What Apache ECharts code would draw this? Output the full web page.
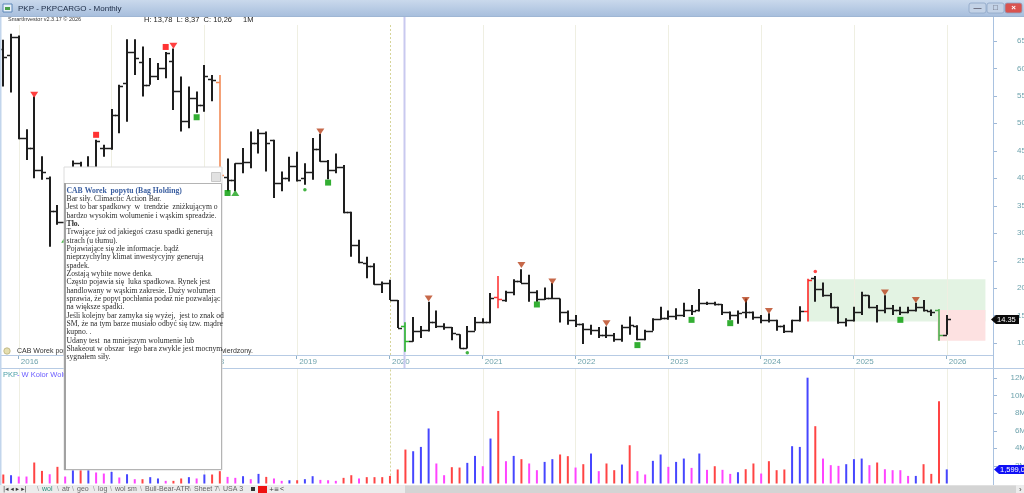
<!DOCTYPE html>
<html><head><meta charset="utf-8">
<script src="https://cdn.jsdelivr.net/npm/echarts@6/dist/echarts.min.js"></script>
<style>html,body{margin:0;padding:0;background:#fff;overflow:hidden}#c{width:1024px;height:493px}</style>
</head><body><div id="c"></div><script>
// ---------------- DATA (monthly bars, index 0 = Nov 2015, index 122 = Jan 2026) ----------------
const yearLabels = ['2016','2017','2018','2019','2020','2021','2022','2023','2024','2025','2026'];
const yearIndex  = [2,14,26,38,50,62,74,86,98,110,122];
const open  = [63.6,62.5,65.8,47.3,45.5,41.5,40.0,34.0,32.1,33.5,42.8,40.0,42.0,45.5,45.5,51.5,57.3,62.9,61.2,57.0,
  58.6,60.0,61.4,55.8,50.4,54.6,53.4,58.0,57.6,40.3,39.7,42.8,43.0,46.5,48.2,47.0,39.1,40.0,42.2,40.0,
  41.2,45.3,43.1,41.5,42.1,33.9,27.9,24.5,24.0,20.7,20.9,17.8,13.1,10.3,12.2,12.3,13.9,13.1,12.9,11.6,
  9.0,12.2,13.9,13.9,18.4,17.8,19.3,21.2,21.0,19.2,18.0,18.1,18.1,15.7,14.2,13.5,12.5,12.4,11.5,11.5,
  10.7,12.9,13.1,10.7,12.2,14.3,14.5,14.9,15.1,16.0,16.0,17.2,17.3,17.1,15.7,15.1,15.6,15.7,14.8,14.1,
  14.1,13.0,12.1,14.1,15.8,21.8,19.8,18.7,16.6,13.9,14.1,15.7,18.7,16.5,16.0,16.3,16.0,15.7,16.0,16.5,
  15.9,16.0,11.5];
const high  = [65.2,66.3,66.0,48.9,54.9,44.0,40.3,35.1,35.0,43.2,43.0,44.0,47.0,46.1,52.6,57.0,65.3,65.3,64.0,61.9,
  61.0,63.0,63.6,58.5,56.7,55.8,60.6,58.8,58.8,43.6,42.7,45.5,48.5,48.9,48.5,47.0,41.2,43.9,44.8,42.7,
  47.3,48.1,43.3,44.5,42.4,33.9,28.8,25.7,24.5,21.2,21.5,17.8,13.78,14.7,13.1,17.5,15.9,13.6,12.9,11.6,
  13.1,14.7,14.5,19.1,22.2,19.5,21.6,23.4,22.4,19.6,20.1,20.9,18.1,15.9,15.1,13.6,13.3,12.9,13.0,11.8,
  13.3,14.8,13.2,12.4,14.5,16.6,15.9,16.3,17.3,16.9,19.8,17.5,17.5,17.1,15.7,15.9,18.1,15.7,15.1,15.4,
  14.2,13.3,14.2,16.7,21.7,22.2,21.0,19.1,16.6,14.5,16.6,19.3,18.7,16.9,18.7,16.9,16.6,16.6,17.3,17.8,
  16.1,16.2,15.1];
const low   = [56.7,55.6,47.1,43.3,40.0,39.7,27.5,31.5,30.0,33.0,38.0,37.0,40.5,43.9,45.2,48.2,50.3,58.8,54.9,57.0,
  57.9,58.2,52.4,48.5,49.1,51.9,52.1,54.0,38.5,37.6,37.6,40.9,41.8,44.5,41.2,36.4,37.6,39.4,39.4,38.8,
  39.7,43.0,39.8,40.9,33.6,25.7,24.5,21.8,20.6,19.1,17.8,12.7,8.37,10.2,10.9,12.1,12.7,12.4,10.5,9.0,
  9.0,12.2,13.6,13.6,16.3,17.5,18.7,20.9,17.5,17.5,17.8,18.0,13.7,13.3,12.9,9.8,11.5,10.9,10.9,10.2,
  10.2,11.5,10.5,10.5,12.2,14.2,14.2,14.2,14.7,15.1,15.7,16.9,16.8,15.1,14.2,13.5,14.5,14.2,13.6,13.7,
  12.2,11.8,11.9,13.9,13.9,17.5,18.4,16.3,13.5,13.0,13.9,15.1,16.3,13.7,15.4,15.1,15.1,15.4,15.7,15.7,
  14.9,10.4,11.5];
const close = [62.1,65.8,47.3,45.5,41.5,41.2,34.0,32.1,33.5,42.8,40.0,42.0,46.7,45.5,51.5,56.8,62.9,61.9,57.0,58.6,
  60.0,62.8,55.8,50.4,54.6,53.4,58.6,57.9,40.5,39.7,42.7,43.0,46.5,48.2,46.5,39.1,40.0,42.2,39.7,41.2,
  45.3,43.1,41.5,42.1,33.9,27.9,24.8,24.0,20.7,20.9,17.8,12.7,10.26,12.2,12.3,13.9,13.1,12.9,11.8,9.0,
  12.2,13.9,13.9,18.1,18.0,19.3,21.2,21.0,19.2,18.0,18.1,18.1,15.7,14.2,13.5,12.5,12.4,11.5,11.5,10.7,
  12.9,13.3,10.7,12.2,14.3,14.5,14.9,15.1,16.0,15.9,17.2,17.3,17.1,15.7,15.1,15.5,15.7,14.8,14.1,14.1,
  13.0,12.1,14.1,15.8,21.5,19.8,18.7,16.6,13.9,14.1,15.7,18.7,16.5,16.0,16.3,16.0,15.7,16.0,16.5,16.0,
  15.7,11.5,14.35];
// monthly volume in millions of shares
const volumeM = [1.02,0.94,0.79,0.79,2.38,1.43,1.05,1.89,0.79,1.8,1.6,1.7,1.25,1.13,1.32,0.68,1.05,0.49,0.49,0.72,
  0.57,0.30,0.30,0.57,0.72,0.57,1.02,1.02,1.40,0.75,0.64,0.83,0.49,1.09,0.75,0.57,0.30,0.37,0.37,0.49,
  0.83,0.41,0.37,0.30,0.64,0.94,0.57,0.72,0.72,0.72,0.86,1.59,3.85,3.66,4.15,6.24,2.27,0.94,1.85,1.81,
  2.34,3.13,1.96,5.10,8.23,2.53,3.13,2.76,2.27,1.51,2.45,2.76,3.29,3.10,1.81,2.19,3.40,1.40,2.27,1.51,
  2.15,4.34,1.40,1.02,2.57,3.29,1.89,2.45,2.83,1.77,3.40,1.55,1.96,1.55,1.09,1.28,1.62,2.27,1.13,2.53,
  1.51,1.59,4.23,4.15,12.0,6.50,2.83,2.08,2.00,2.19,2.76,2.83,2.08,2.38,1.62,1.51,1.51,0.86,0.86,2.19,
  1.09,9.33,1.59905];
// volume colour class from the indicator: R / B / M
const volClass = ['R','B','M','M','R','R','M','R','M','B','R','B','M','M','B','M','B','M','R','B',
  'B','M','R','R','B','M','B','R','R','M','M','B','M','B','R','M','M','B','R','B',
  'B','M','M','M','R','R','M','R','R','R','R','R','R','B','B','B','M','M','R','R',
  'B','B','M','B','R','M','B','R','M','M','B','B','R','R','M','R','B','M','R','R',
  'B','R','M','M','B','B','M','B','B','M','B','M','R','M','M','B','R','R','M','R',
  'R','R','B','B','B','R','M','M','M','B','B','B','M','R','M','M','M','M','B','R',
  'R','R','B'];
// signals: [bar index, price level]
const sigRedSquare   = [[12,47.9],[21,63.9]];
const sigRedTriDown  = [[4,55.2],[22,64.1]];
const sigBrownTriDown= [[41,48.5],[55,18.1],[67,24.2],[71,21.2],[78,13.6],[96,17.8],[99,15.8],[114,19.2],[118,17.8]];
const sigGreenSquare = [[25,51.1],[29,37.3],[42,39.2],[69,17.0],[82,9.6],[89,14.2],[94,13.6],[116,14.2]];
const sigGreenTriUp  = [[8,28.8],[30,37.3]];
const sigGreenDot    = [[39,37.9],[60,8.2]];
const sigRedDot      = [[105,23.0]];
// zones [fromIndex, toIndex, topPrice, bottomPrice]
const zoneGreen = [104,127,21.6,13.9];
const zoneRed   = [120.8,127,16.0,10.4];
const cursorIndex = 51.8;
const priceTicks = [10,15,20,25,30,35,40,45,50,55,60,65];
const volTicks = [2,4,6,8,10,12];
const commentLines = [
 'CAB Worek  popytu (Bag Holding)',
 'Bar siły. Climactic Action Bar.',
 'Jest to bar spadkowy  w  trendzie  zniżkującym o',
 'bardzo wysokim wolumenie i wąskim spreadzie.',
 'Tło.',
 'Trwające już od jakiegoś czasu spadki generują',
 'strach (u tłumu).',
 'Pojawiające się złe informacje. bądź',
 'nieprzychylny klimat inwestycyjny generują',
 'spadek.',
 'Zostają wybite nowe denka.',
 'Często pojawia się  luka spadkowa. Rynek jest',
 'handlowany w wąskim zakresie. Duży wolumen',
 'sprawia, że popyt pochłania podaż nie pozwalając',
 'na większe spadki.',
 'Jeśli kolejny bar zamyka się wyżej,  jest to znak od',
 'SM, że na tym barze musiało odbyć się tzw. mądre',
 'kupno. .',
 'Udany test  na mniejszym wolumenie lub',
 'Shakeout w obszar  tego bara zwykle jest mocnym',
 'sygnałem siły.'
];

// ---------------- STYLE ----------------
const specialBarColor = {28:'#f28a55', 52:'#2cb52c', 64:'#ff3838', 104:'#ff2a2a', 121:'#4cae4c'};
const volColor = {R:'#ff4444', B:'#4646ff', M:'#ff44ff'};
const axisTxt = '#6fa3ad';
const UI = 'Liberation Sans';

const ohlc = open.map((o,i)=>[i,o,high[i],low[i],close[i]]);
const xMin = -0.427, xMax = 127.98;
const chart = echarts.init(document.getElementById('c'), null, {renderer:'canvas'});

const yearLines = yearIndex.map((k,i)=>({xAxis:k, lineStyle: yearLabels[i]==='2020'
  ? {color:'#d6d49a', type:[2,2], width:1} : {color:'#efefe2', type:'solid', width:1}}));

chart.setOption({
  animation:false,
  grid:[{left:0, top:25, width:993, height:330, outerBoundsMode:'none', containLabel:false},
        {left:0, top:368, width:993, height:115.5, outerBoundsMode:'none', containLabel:false}],
  xAxis:[
    {type:'value', gridIndex:0, min:xMin, max:xMax, splitLine:{show:false},
     axisLine:{show:true, lineStyle:{color:'#b7cbe4', width:1}},
     axisTick:{show:false},
     axisLabel:{show:true, customValues:yearIndex, margin:3, align:'left', padding:[0,0,0,2],
       color:axisTxt, fontFamily:UI, fontSize:8,
       formatter:v=>{const i=yearIndex.indexOf(Math.round(v)); return i>=0?yearLabels[i]:'';}}},
    {type:'value', gridIndex:1, min:xMin, max:xMax, show:false, splitLine:{show:false}}
  ],
  yAxis:[
    {type:'value', gridIndex:0, position:'right', min:7.8, max:67.9, splitLine:{show:false},
     axisLine:{show:false}, axisTick:{show:false},
     axisLabel:{customValues:priceTicks, margin:33, align:'right', color:axisTxt, fontFamily:UI, fontSize:8}},
    {type:'value', gridIndex:1, position:'right', min:0, max:13.1, splitLine:{show:false},
     axisLine:{show:false}, axisTick:{show:false},
     axisLabel:{customValues:volTicks, margin:33, align:'right', color:axisTxt, fontFamily:UI, fontSize:8,
       formatter:v=>v+'M'}}
  ],
  series:[
    {type:'scatter', xAxisIndex:0, yAxisIndex:0, data:[[0,30]], symbolSize:0, silent:true, z:1,
     markLine:{silent:true, symbol:'none', label:{show:false}, data:yearLines, animation:false},
     markArea:{silent:true, data:[
       [{xAxis:zoneGreen[0], yAxis:zoneGreen[2], itemStyle:{color:'#e3f3e3'}},{xAxis:zoneGreen[1], yAxis:zoneGreen[3]}],
       [{xAxis:zoneRed[0], yAxis:zoneRed[2], itemStyle:{color:'#fde1e1'}},{xAxis:zoneRed[1], yAxis:zoneRed[3]}]
     ]}},
    {type:'scatter', xAxisIndex:1, yAxisIndex:1, data:[[0,1]], symbolSize:0, silent:true, z:1,
     markLine:{silent:true, symbol:'none', label:{show:false}, data:yearLines, animation:false}},
    {type:'custom', xAxisIndex:0, yAxisIndex:0, z:5, data:ohlc, encode:{x:0, y:[1,2,3,4]},
     renderItem:function(params, api){
       const k=api.value(0);
       const pO=api.coord([k,api.value(1)]), pH=api.coord([k,api.value(2)]),
             pL=api.coord([k,api.value(3)]), pC=api.coord([k,api.value(4)]);
       const col=specialBarColor[k]||'#1e1e1e';
       const w = specialBarColor[k] ? 1.6 : 2;
       const x=Math.round(pH[0]);
       const yo=Math.round(pO[1])+0.5, yc=Math.round(pC[1])+0.5;
       return {type:'group', children:[
         {type:'line', shape:{x1:x,y1:pH[1],x2:x,y2:pL[1]}, style:{stroke:col, lineWidth:w}},
         {type:'line', shape:{x1:x-4,y1:yo,x2:x,y2:yo}, style:{stroke:col, lineWidth:1.5}},
         {type:'line', shape:{x1:x,y1:yc,x2:x+4,y2:yc}, style:{stroke:col, lineWidth:1.5}}
       ]};
     }},
    {type:'scatter', xAxisIndex:0, yAxisIndex:0, z:6, data:sigRedSquare, symbol:'rect', symbolSize:6, itemStyle:{color:'#ff0000'}},
    {type:'scatter', xAxisIndex:0, yAxisIndex:0, z:6, data:sigRedTriDown, symbol:'triangle', symbolRotate:180, symbolSize:[8,6], itemStyle:{color:'#ff1010'}},
    {type:'scatter', xAxisIndex:0, yAxisIndex:0, z:6, data:sigBrownTriDown, symbol:'triangle', symbolRotate:180, symbolSize:[8,6], itemStyle:{color:'#b8421c'}},
    {type:'scatter', xAxisIndex:0, yAxisIndex:0, z:6, data:sigGreenSquare, symbol:'rect', symbolSize:6, itemStyle:{color:'#009a00'}},
    {type:'scatter', xAxisIndex:0, yAxisIndex:0, z:6, data:sigGreenTriUp, symbol:'triangle', symbolSize:[8,6], itemStyle:{color:'#1aa31a'}},
    {type:'scatter', xAxisIndex:0, yAxisIndex:0, z:6, data:sigGreenDot, symbol:'circle', symbolSize:3.5, itemStyle:{color:'#13a013'}},
    {type:'scatter', xAxisIndex:0, yAxisIndex:0, z:6, data:sigRedDot, symbol:'circle', symbolSize:3.5, itemStyle:{color:'#ff1a1a'}},
    {type:'bar', xAxisIndex:1, yAxisIndex:1, z:5, barWidth:2,
     data:volumeM.map((v,i)=>({value:[i,v], itemStyle:{color:volColor[volClass[i]]}}))}
  ]
});

// ---------------- overlay graphics (positions from the chart's own scales) ----------------
const P = (k,p)=>chart.convertToPixel({gridIndex:0},[k,p]);
const V = (k,v)=>chart.convertToPixel({xAxisIndex:1,yAxisIndex:1},[k,v]);
const g = [];
const txt=(x,y,t,o)=>g.push(Object.assign({type:'text', x, y, z:100, silent:true,
  style:Object.assign({text:t, fill:'#222', font:'8px "'+UI+'"', textVerticalAlign:'middle'}, o||{})}));
// axis tick marks
priceTicks.forEach(p=>{const y=Math.round(P(0,p)[1])+0.5; g.push({type:'line', z:80, shape:{x1:994,y1:y,x2:997,y2:y}, style:{stroke:'#9fb8d6', lineWidth:1}});});
volTicks.forEach(v=>{const y=Math.round(V(0,v)[1])+0.5; g.push({type:'line', z:80, shape:{x1:994,y1:y,x2:997,y2:y}, style:{stroke:'#9fb8d6', lineWidth:1}});});
yearIndex.forEach(k=>{const x=Math.round(P(k-0.1,20)[0])+0.5; g.push({type:'line', z:80, shape:{x1:x,y1:356,x2:x,y2:359}, style:{stroke:'#8fb0c8', lineWidth:1}});});
// window frame
g.push({type:'rect', z:90, shape:{x:0,y:0,width:1024,height:16}, style:{fill:new echarts.graphic.LinearGradient(0,0,0,1,[{offset:0,color:'#cad9ec'},{offset:1,color:'#a8bfdd'}])}});
g.push({type:'line', z:91, shape:{x1:0,y1:16.5,x2:1024,y2:16.5}, style:{stroke:'#9fb6d4', lineWidth:1}});
g.push({type:'rect', z:91, shape:{x:3,y:4,width:9,height:8}, style:{fill:'#e8f0f8', stroke:'#5a86b8', lineWidth:1}});
g.push({type:'rect', z:92, shape:{x:5,y:7,width:5,height:3}, style:{fill:'#4aa04a'}});
txt(18,8.5,'PKP - PKPCARGO - Monthly',{fill:'#1b2a44', font:'8px "'+UI+'"'});
// window buttons
[[969,'#c3d2e6','—'],[987,'#c3d2e6','□'],[1005,'#d9534f','×']].forEach(b=>{
  g.push({type:'rect', z:91, shape:{x:b[0],y:3,width:17,height:10,r:2}, style:{fill:b[1], stroke:'#8ea6c6', lineWidth:0.8}});
  txt(b[0]+8.5,8,b[2],{fill:b[2]==='×'?'#fff':'#556', textAlign:'center', font:'bold 8px "'+UI+'"'});
});
// left border
g.push({type:'rect', z:90, shape:{x:0,y:16,width:1.5,height:477}, style:{fill:'#c2d5ec'}});
// info row
txt(8,19.5,'SmartInvestor v2.3.17 © 2026',{fill:'#333', font:'5.5px "'+UI+'"'});
txt(144,20,'H: '+high[52].toFixed(2).replace('.',',')+'  L: '+low[52].toFixed(2).replace('.',',')+'  C: '+close[52].toFixed(2).replace('.',','),{fill:'#222', font:'7.5px "'+UI+'"'});
txt(243,20,'1M',{fill:'#222', font:'7.5px "'+UI+'"'});
// right axis line
g.push({type:'line', z:80, shape:{x1:993.5,y1:17,x2:993.5,y2:493}, style:{stroke:'#a9c2e0', lineWidth:1}});
// separator line above volume pane
g.push({type:'line', z:80, shape:{x1:0,y1:368.5,x2:1024,y2:368.5}, style:{stroke:'#b7cbe4', lineWidth:1}});
// cursor line
const cx = Math.round(P(cursorIndex,20)[0])+0.5;
g.push({type:'line', z:4, shape:{x1:cx,y1:17,x2:cx,y2:368}, style:{stroke:'#c9c9ef', lineWidth:2}});
// status line
g.push({type:'circle', z:95, shape:{cx:7,cy:351,r:3.2}, style:{fill:'#e6dfb0', stroke:'#b9b07a', lineWidth:0.8}});
txt(17,351,'CAB Worek popytu (Bag Holding) - sygnał',{fill:'#333', font:'7px "'+UI+'"'});
txt(253,351,'niepotwierdzony.',{fill:'#333', font:'7px "'+UI+'"', textAlign:'right'});
// volume pane title
txt(3,374.5,'PKP',{fill:'#4ea0a8', font:'7.5px "'+UI+'"'});
txt(17,374.5,'- W Kolor Wolumenu',{fill:'#6a5cff', font:'7.5px "'+UI+'"'});
// last price label
const lp = P(122, close[122]);
const ly = Math.round(lp[1])+0.5;
g.push({type:'polygon', z:95, shape:{points:[[991,ly],[996,ly-4.5],[1019,ly-4.5],[1019,ly+4.5],[996,ly+4.5]]}, style:{fill:'#0b0b0b'}});
txt(997,ly,close[122].toFixed(2),{fill:'#fff', font:'7.5px "'+UI+'"'});
// last volume label
const lv = V(122, volumeM[122]);
const vy = Math.round(lv[1])+0.5;
g.push({type:'polygon', z:95, shape:{points:[[994,vy],[999,vy-4.5],[1024,vy-4.5],[1024,vy+4.5],[999,vy+4.5]]}, style:{fill:'#1010f5'}});
txt(1000,vy,Math.round(volumeM[122]*1e6).toLocaleString('en-US'),{fill:'#fff', font:'7.5px "'+UI+'"'});
// bottom tab strip
g.push({type:'rect', z:90, shape:{x:0,y:485,width:1024,height:8}, style:{fill:'#ececec'}});
g.push({type:'rect', z:91, shape:{x:405,y:485.5,width:611,height:7.5}, style:{fill:'#d4d4d4'}});
txt(1019,489.5,'›',{fill:'#444', font:'8px "'+UI+'"'});
txt(3,489.5,'|◂ ◂ ▸ ▸|',{fill:'#333', font:'6.5px "DejaVu Sans"'});
[[42,'wol','#2d8f7d'],[62,'atr','#666'],[77,'geo','#666'],[98,'log','#666'],[115,'wol sm','#666'],[145,'Bull-Bear-ATR','#666'],[194,'Sheet 7','#666'],[223,'USA 3','#666']].forEach(t=>{
  txt(t[0],489.5,t[1],{fill:t[2], font:'7px "'+UI+'"'});
  txt(t[0]-5,489.5,'\\',{fill:'#999', font:'7px "'+UI+'"'});
});
g.push({type:'rect', z:92, shape:{x:251,y:487,width:4,height:4}, style:{fill:'#333'}});
g.push({type:'rect', z:92, shape:{x:258,y:486,width:9,height:7}, style:{fill:'#ee1111'}});
txt(269,489.5,'+≡',{fill:'#333', font:'6px "DejaVu Sans"'});
txt(280,489.5,'<',{fill:'#333', font:'7px "'+UI+'"'});
// comment window
g.push({type:'rect', z:200, shape:{x:64,y:167,width:158,height:303}, style:{fill:'#ffffff', stroke:'#dcdcdc', lineWidth:1}});
txt(68,176.5,'Komentarz',{fill:'#a8a8a8', font:'7px "'+UI+'"', z:201});
g.push({type:'rect', z:201, shape:{x:211.5,y:172.5,width:9,height:9}, style:{fill:'#e2e2e2', stroke:'#c8c8c8', lineWidth:1}});
g.push({type:'rect', z:201, shape:{x:65,y:183.5,width:156.5,height:286}, style:{fill:'#ffffff', stroke:'#b4b4b4', lineWidth:1}});
g.push({type:'rect', z:202, shape:{x:64,y:183,width:2,height:287}, style:{fill:'#a2a2a2'}});
commentLines.forEach((s,i)=>{
  const bold = (i===0||i===4);
  g.push({type:'text', z:203, silent:true, x:66.5, y:190.7+8.33*i, style:{text:s, textVerticalAlign:'middle',
    fill: i===0?'#3a5ea0':'#2e2e2e', font:(bold?'bold ':'')+'7.7px "Liberation Serif"'}});
});
chart.setOption({graphic:g});
</script></body></html>
